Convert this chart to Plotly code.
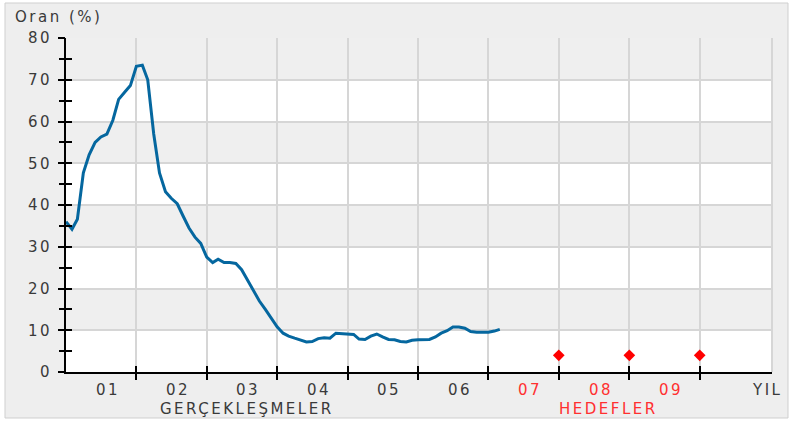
import pandas as pd
import plotly.graph_objects as go

# ---------------- data ----------------
start_month = "2001-01-01"
rate = [
    36.0, 34.2, 36.6, 47.7, 52.0, 55.0, 56.3, 57.0, 60.3, 65.3, 67.0, 68.6,   # 2001
    73.2, 73.5, 70.0, 57.0, 47.7, 43.2, 41.6, 40.3, 37.3, 34.5, 32.3, 30.8,   # 2002
    27.5, 26.2, 27.0, 26.2, 26.2, 26.0, 24.5, 22.0, 19.5, 17.0, 15.0, 13.0,   # 2003
    10.8, 9.3, 8.6, 8.1, 7.7, 7.2, 7.3, 8.0, 8.2, 8.1, 9.3, 9.2,              # 2004
    9.25, 9.0, 7.9, 7.8, 8.6, 9.1, 8.4, 7.8, 7.7, 7.3, 7.2, 7.6,              # 2005
    7.7, 7.7, 7.8, 8.4, 9.3, 9.9, 10.8, 10.8, 10.5, 9.7, 9.5, 9.5,            # 2006
    9.5, 9.8, 10.2,                                                           # 2007
]
months = pd.date_range(start_month, periods=len(rate), freq="MS")

target_dates = ["2008-01-01", "2009-01-01", "2010-01-01"]
target_rate = [4, 4, 4]

actual_years = [2001, 2002, 2003, 2004, 2005, 2006]
actual_labels = ["01", "02", "03", "04", "05", "06"]
target_years = [2007, 2008, 2009]
target_labels = ["07", "08", "09"]
boundary_years = list(range(2002, 2011))
y_major = list(range(0, 81, 10))
y_minor = list(range(0, 81, 5))

# ---------------- style ----------------
FONT = "DejaVu Sans"
FS = 15
TXT = "#3a3a3a"
RED = "#ff3030"
GRID = "#d6d6d6"
BAND = "#efefef"
LS = "letter-spacing:2.5px"
x_range = ["2001-01-01", "2011-01-11"]


def sp(t, color=TXT):
    return f'<span style="{LS};color:{color}">{t}</span>'


fig = go.Figure()
fig.add_trace(go.Scatter(x=months, y=rate, mode="lines",
                         line=dict(color="#05679f", width=3), hoverinfo="skip"))
fig.add_trace(go.Scatter(x=target_dates, y=target_rate, mode="markers",
                         marker=dict(symbol="diamond", size=9, color="#ff0000"),
                         hoverinfo="skip"))
# empty helper traces so the overlay axes (crossing tick marks) are drawn
fig.add_trace(go.Scatter(x=[], y=[], xaxis="x2", yaxis="y2", mode="lines",
                         hoverinfo="skip"))
fig.add_trace(go.Scatter(x=[], y=[], xaxis="x", yaxis="y3", mode="lines",
                         hoverinfo="skip"))

boundaries = [f"{y}-01-01" for y in boundary_years]

shapes = [
    # outer frame
    dict(type="rect", xref="paper", yref="paper",
         x0=(5 - 66) / 706, x1=(788 - 66) / 706,
         y0=(372 - 418) / 334, y1=(372 - 3) / 334,
         fillcolor="#eeeeee", line=dict(color="#cfcfcf", width=1), layer="below"),
    # white plot area
    dict(type="rect", xref="x domain", yref="y domain", x0=0, x1=1, y0=0, y1=1,
         fillcolor="white", line=dict(width=0), layer="below"),
]
for lo in y_major[1::2]:
    shapes.append(dict(type="rect", xref="x domain", yref="y", x0=0, x1=1,
                       y0=lo, y1=lo + 10, fillcolor=BAND, line=dict(width=0),
                       layer="below"))
shapes.append(dict(type="line", xref="x domain", yref="y domain", x0=1, x1=1,
                   y0=0, y1=1, line=dict(color=GRID, width=2), layer="below"))

LABEL_Y = (372 - 390) / 334
annotations = []
for yr, lab in zip(actual_years, actual_labels):
    annotations.append(dict(x=f"{yr}-08-05", y=LABEL_Y, xref="x", yref="paper",
                            text=sp(lab), showarrow=False, xanchor="center",
                            yanchor="middle", font=dict(family=FONT, size=FS, color=TXT)))
for yr, lab in zip(target_years, target_labels):
    annotations.append(dict(x=f"{yr}-08-05", y=LABEL_Y, xref="x", yref="paper",
                            text=sp(lab, RED), showarrow=False, xanchor="center",
                            yanchor="middle", font=dict(family=FONT, size=FS, color=RED)))
annotations += [
    dict(x=(767 - 66) / 706, y=LABEL_Y, xref="paper", yref="paper", text=sp("YIL"),
         showarrow=False, xanchor="center", yanchor="middle",
         font=dict(family=FONT, size=FS, color=TXT)),
    dict(x=(247 - 66) / 706, y=(372 - 409) / 334, xref="paper", yref="paper",
         text=sp("GERÇEKLEŞMELER"), showarrow=False, xanchor="center", yanchor="middle",
         font=dict(family=FONT, size=FS, color=TXT)),
    dict(x=(608 - 66) / 706, y=(372 - 409) / 334, xref="paper", yref="paper",
         text=sp("HEDEFLER", RED), showarrow=False, xanchor="center", yanchor="middle",
         font=dict(family=FONT, size=FS, color=RED)),
    dict(x=(13 - 66) / 706, y=(372 - 17) / 334, xref="paper", yref="paper",
         text=sp("Oran (%)"), showarrow=False, xanchor="left", yanchor="middle",
         font=dict(family=FONT, size=FS, color=TXT)),
]

fig.update_layout(
    width=793, height=423, autosize=False,
    margin=dict(l=66, r=21, t=38, b=51, pad=0),
    paper_bgcolor="white", plot_bgcolor="white",
    showlegend=False,
    font=dict(family=FONT, size=FS, color=TXT),
    shapes=shapes, annotations=annotations,
    xaxis=dict(type="date", range=x_range, tickmode="array", tickvals=boundaries,
               showticklabels=False, ticks="outside", ticklen=6, tickwidth=2,
               tickcolor="black", showgrid=True, gridcolor=GRID, gridwidth=2,
               showline=True, linecolor="black", linewidth=2, zeroline=False,
               fixedrange=True),
    xaxis2=dict(type="date", range=x_range, overlaying="x", anchor="y", side="bottom",
                tickmode="array", tickvals=boundaries, showticklabels=False,
                ticks="inside", ticklen=6, tickwidth=2, tickcolor="black",
                showgrid=False, showline=False, zeroline=False, fixedrange=True),
    yaxis=dict(range=[0, 80], tickmode="array", tickvals=y_major,
               ticktext=[sp(str(v)) for v in y_major],
               ticks="outside", ticklen=6, tickwidth=2, tickcolor="black",
               showgrid=True, gridcolor=GRID, gridwidth=2,
               showline=True, linecolor="black", linewidth=2, zeroline=False,
               tickfont=dict(family=FONT, size=FS, color=TXT), ticklabelstandoff=3,
               fixedrange=True),
    yaxis2=dict(range=[0, 80], overlaying="y", anchor="x2", side="left",
                tickmode="array", tickvals=y_minor, showticklabels=False,
                ticks="inside", ticklen=6, tickwidth=2, tickcolor="black",
                showgrid=False, showline=False, zeroline=False, fixedrange=True),
    yaxis3=dict(range=[0, 80], overlaying="y", anchor="x", side="left",
                tickmode="array", tickvals=y_minor, showticklabels=False,
                ticks="outside", ticklen=6, tickwidth=2, tickcolor="black",
                showgrid=False, showline=False, zeroline=False, fixedrange=True),
)

fig.write_html(
    "out.html",
    config={"displayModeBar": False},
    post_script="document.body.style.margin='0';document.body.style.padding='0';",
)
